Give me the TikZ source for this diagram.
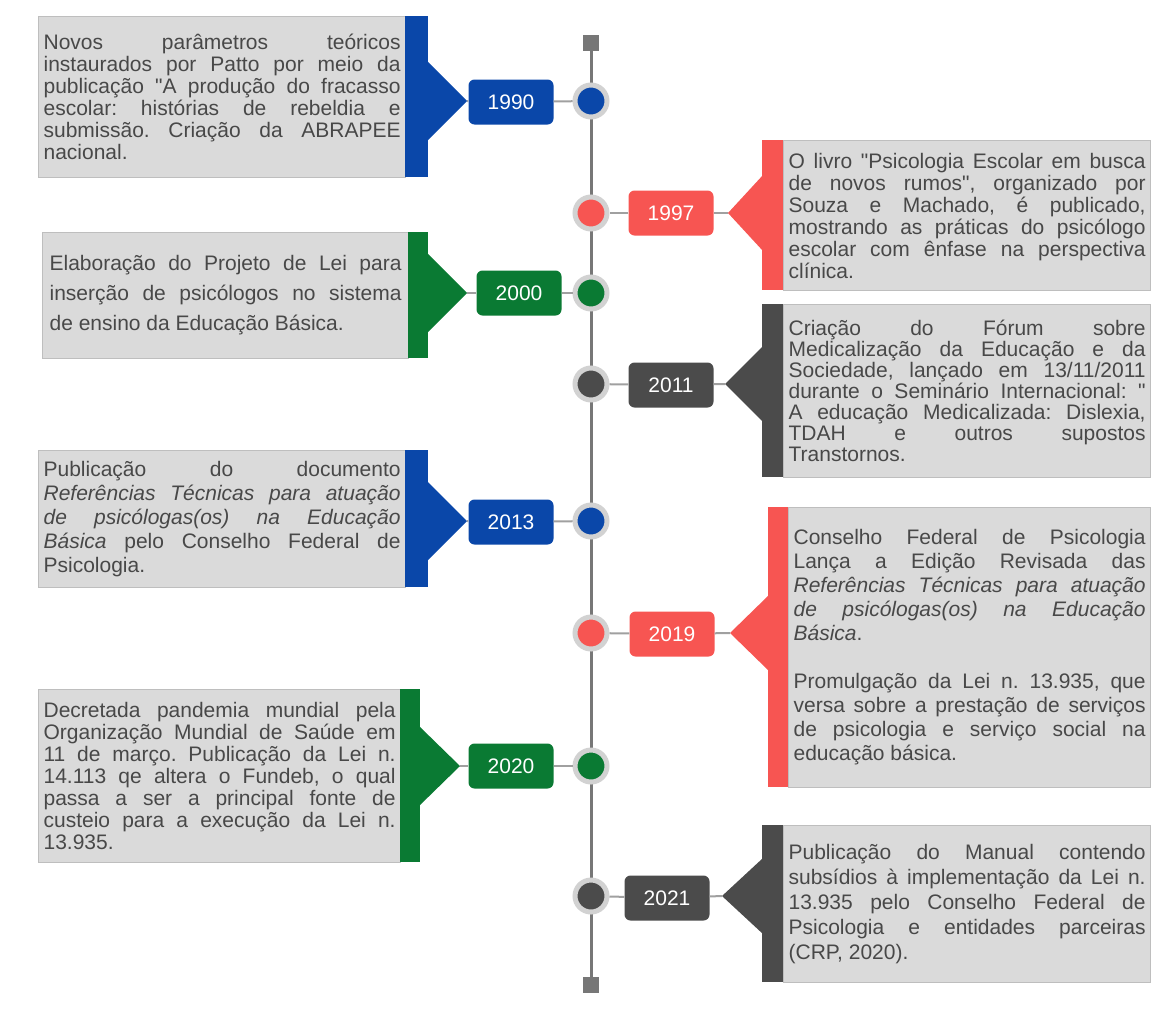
\documentclass[tikz,border=0pt]{standalone}
\usepackage{fontspec}
\setmainfont{Liberation Sans}[Ligatures=TeXOff]
\setlength{\parindent}{0pt}
\frenchspacing
\definecolor{blueT}{HTML}{0A47A9}
\definecolor{redT}{HTML}{F75552}
\definecolor{greenT}{HTML}{0A7A33}
\definecolor{darkT}{HTML}{4B4B4B}
\definecolor{panelgray}{HTML}{DADADA}
\definecolor{panelline}{HTML}{BEBEBE}
\definecolor{textgray}{HTML}{484848}
\definecolor{ringgray}{HTML}{D2D2D2}
\definecolor{linkgray}{HTML}{A0A0A0}
\definecolor{axisgray}{HTML}{777777}
\tikzset{
  panel/.style={fill=panelgray, draw=panelline, line width=1.2pt, text=textgray,
    align=justify, inner xsep=5pt, inner ysep=0pt, text width=357pt,
    anchor=north west, font=\fontsize{21}{22}\selectfont},
  yr/.style={rounded corners=6pt, minimum width=85pt, minimum height=45pt,
    inner sep=0pt, text=white, font=\fontsize{21}{21}\selectfont},
  dot/.style={circle, minimum size=32pt, inner sep=0pt, draw=ringgray, line width=5pt},
  link/.style={draw=linkgray, line width=2pt},
  endsq/.style={fill=axisgray, minimum size=16pt, inner sep=0pt},
}
\begin{document}
\begin{tikzpicture}[x=1pt,y=-1pt]
  \useasboundingbox (0,0) rectangle (1155,1028);

  % timeline
  \node[endsq] (top) at (591,43) {};
  \node[endsq] (bot) at (591,985) {};
  \draw[draw=axisgray, line width=3pt] (top) -- (bot);

  % 1990
  \node[panel, minimum height=161pt] (p1990) at (38,16) {Novos parâmetros teóricos\linebreak
    instaurados por Patto por meio da\linebreak publicação "A produção do fracasso\linebreak
    escolar: histórias de rebeldia e\linebreak submissão. Criação da ABRAPEE\linebreak nacional.};
  \fill[blueT] (405,16) rectangle (428,177);
  \fill[blueT] (427,61) -- (467,101) -- (427,141) -- cycle;
  \coordinate (t1990) at (467,101);
  \node[yr, fill=blueT] (y1990) at (511,102) {1990};
  \node[dot, fill=blueT] (d1990) at (591,101) {};
  \draw[link] (t1990) -- (y1990);
  \draw[link] (y1990) -- (d1990);

  % 1997
  \node[panel, minimum height=150pt] (p1997) at (783,140) {O livro "Psicologia Escolar em busca\linebreak
    de novos rumos", organizado por\linebreak Souza e Machado, é publicado,\linebreak
    mostrando as práticas do psicólogo\linebreak escolar com ênfase na perspectiva\linebreak clínica.};
  \fill[redT] (762,140) rectangle (783,290);
  \fill[redT] (763,175) -- (728,213) -- (763,251) -- cycle;
  \coordinate (t1997) at (728,213);
  \node[yr, fill=redT] (y1997) at (671,213) {1997};
  \node[dot, fill=redT] (d1997) at (591,213) {};
  \draw[link] (t1997) -- (y1997);
  \draw[link] (y1997) -- (d1997);

  % 2000
  \node[panel, minimum height=126pt, text width=352pt, inner xsep=7pt,
    font=\fontsize{21}{30}\selectfont] (p2000) at (42,232) {Elaboração do Projeto de Lei para\linebreak
    inserção de psicólogos no sistema\linebreak de ensino da Educação Básica.};
  \fill[greenT] (408,232) rectangle (428,358);
  \fill[greenT] (427,253) -- (467,293) -- (427,333) -- cycle;
  \coordinate (t2000) at (467,293);
  \node[yr, fill=greenT] (y2000) at (519,293) {2000};
  \node[dot, fill=greenT] (d2000) at (591,293) {};
  \draw[link] (t2000) -- (y2000);
  \draw[link] (y2000) -- (d2000);

  % 2011
  \node[panel, minimum height=173pt, font=\fontsize{21}{21}\selectfont] (p2011) at (783,304) {Criação do Fórum sobre\linebreak
    Medicalização da Educação e da\linebreak Sociedade, lançado em 13/11/2011\linebreak
    durante o Seminário Internacional: "\linebreak A educação Medicalizada: Dislexia,\linebreak
    TDAH e outros supostos\linebreak Transtornos.};
  \fill[darkT] (762,304) rectangle (783,477);
  \fill[darkT] (763,346) -- (725,384) -- (763,422) -- cycle;
  \coordinate (t2011) at (725,384);
  \node[yr, fill=darkT] (y2011) at (671,385) {2011};
  \node[dot, fill=darkT] (d2011) at (591,384) {};
  \draw[link] (t2011) -- (y2011);
  \draw[link] (y2011) -- (d2011);

  % 2013
  \node[panel, minimum height=137pt, font=\fontsize{21}{24}\selectfont] (p2013) at (38,450) {Publicação do documento\linebreak
    \textit{Referências Técnicas para atuação\linebreak de psicólogas(os) na Educação\linebreak
    Básica} pelo Conselho Federal de\linebreak Psicologia.};
  \fill[blueT] (405,450) rectangle (428,587);
  \fill[blueT] (427,481) -- (467,521) -- (427,561) -- cycle;
  \coordinate (t2013) at (467,521);
  \node[yr, fill=blueT] (y2013) at (511,522) {2013};
  \node[dot, fill=blueT] (d2013) at (591,521) {};
  \draw[link] (t2013) -- (y2013);
  \draw[link] (y2013) -- (d2013);

  % 2019
  \node[panel, minimum height=280pt, text width=352pt, font=\fontsize{21}{24}\selectfont] (p2019) at (788,507) {Conselho Federal de Psicologia\linebreak
    Lança a Edição Revisada das\linebreak \textit{Referências Técnicas para atuação\linebreak
    de psicólogas(os) na Educação\linebreak Básica}.\par\vspace{24pt}
    Promulgação da Lei n. 13.935, que\linebreak versa sobre a prestação de serviços\linebreak
    de psicologia e serviço social na\linebreak educação básica.};
  \fill[redT] (768,507) rectangle (788,787);
  \fill[redT] (769,595) -- (730,633) -- (769,671) -- cycle;
  \coordinate (t2019) at (730,633);
  \node[yr, fill=redT] (y2019) at (672,634) {2019};
  \node[dot, fill=redT] (d2019) at (591,633) {};
  \draw[link] (t2019) -- (y2019);
  \draw[link] (y2019) -- (d2019);

  % 2020
  \node[panel, minimum height=173pt, text width=352pt] (p2020) at (38,689) {Decretada pandemia mundial pela\linebreak
    Organização Mundial de Saúde em\linebreak 11 de março. Publicação da Lei n.\linebreak
    14.113 qe altera o Fundeb, o qual\linebreak passa a ser a principal fonte de\linebreak
    custeio para a execução da Lei n.\linebreak 13.935.};
  \fill[greenT] (400,689) rectangle (420,862);
  \fill[greenT] (419,726) -- (460,766) -- (419,806) -- cycle;
  \coordinate (t2020) at (460,766);
  \node[yr, fill=greenT] (y2020) at (511,766) {2020};
  \node[dot, fill=greenT] (d2020) at (591,766) {};
  \draw[link] (t2020) -- (y2020);
  \draw[link] (y2020) -- (d2020);

  % 2021
  \node[panel, minimum height=157pt, font=\fontsize{21}{25}\selectfont] (p2021) at (783,825) {Publicação do Manual contendo\linebreak
    subsídios à implementação da Lei n.\linebreak 13.935 pelo Conselho Federal de\linebreak
    Psicologia e entidades parceiras\linebreak (CRP, 2020).};
  \fill[darkT] (762,825) rectangle (783,982);
  \fill[darkT] (763,858) -- (722,896) -- (763,934) -- cycle;
  \coordinate (t2021) at (722,896);
  \node[yr, fill=darkT] (y2021) at (667,898) {2021};
  \node[dot, fill=darkT] (d2021) at (591,896) {};
  \draw[link] (t2021) -- (y2021);
  \draw[link] (y2021) -- (d2021);
\end{tikzpicture}
\end{document}
